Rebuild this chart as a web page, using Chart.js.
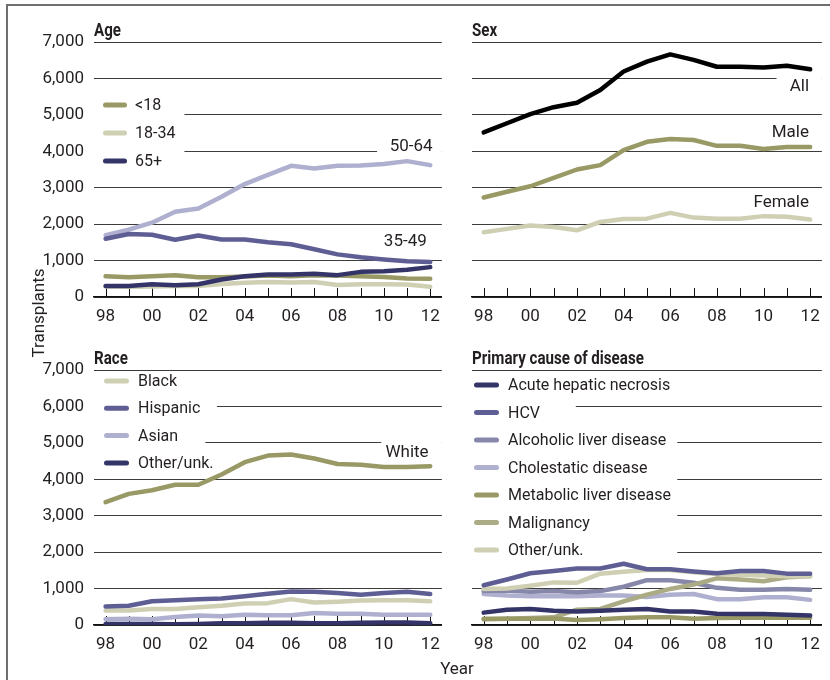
<!DOCTYPE html>
<html>
<head>
<meta charset="utf-8">
<title>Liver transplants by recipient characteristics</title>
<script src="https://cdn.jsdelivr.net/npm/chart.js@4/dist/chart.umd.min.js"></script>
<style>
  html, body { margin: 0; padding: 0; background: #fff; }
  #wrap { position: relative; width: 830px; height: 680px; overflow: hidden; background: #fff; }
  #frame { position: absolute; left: 6px; top: 4px; width: 840px; height: 700px;
           border-left: 2px solid #6f6f6f; border-top: 2px solid #6f6f6f; }
  canvas { position: absolute; }
  .axis-title { position: absolute; font: 17px Roboto, "Liberation Sans", Arial, sans-serif;
                color: #231f20; white-space: nowrap; text-align: center; }
  #yTitle { width: 120px; height: 22px; line-height: 22px; left: -22px; top: 302px; transform: rotate(-90deg); }
  #xTitle { width: 60px; height: 22px; line-height: 22px; left: 427px; top: 657px; }
</style>
</head>
<body>
<div id="wrap">
  <div id="frame"></div>
  <canvas id="cAge" width="450" height="330" style="left:0;top:0"></canvas>
  <canvas id="cSex" width="380" height="330" style="left:450px;top:0"></canvas>
  <canvas id="cRace" width="450" height="350" style="left:0;top:330px"></canvas>
  <canvas id="cCause" width="380" height="350" style="left:450px;top:330px"></canvas>
  <div class="axis-title" id="yTitle">Transplants</div>
  <div class="axis-title" id="xTitle">Year</div>
</div>
<script>
// ---- data: liver transplants per year, 1998-2012 ----
const years = ['98','99','00','01','02','03','04','05','06','07','08','09','10','11','12'];
const yTicks = [0, 1000, 2000, 3000, 4000, 5000, 6000, 7000];

// Age groups
const ageUnder18 = [570, 540, 570, 600, 540, 540, 560, 590, 570, 600, 590, 570, 550, 510, 500];
const age18to34  = [290, 280, 290, 300, 300, 360, 390, 410, 400, 410, 330, 350, 350, 340, 280];
const age35to49  = [1600, 1730, 1710, 1570, 1690, 1580, 1580, 1500, 1450, 1310, 1170, 1090, 1030, 980, 960];
const age50to64  = [1700, 1850, 2040, 2340, 2430, 2750, 3100, 3350, 3600, 3530, 3600, 3610, 3650, 3730, 3620];
const age65plus  = [300, 300, 350, 320, 350, 480, 570, 620, 620, 640, 600, 690, 710, 750, 820];

// Sex
const sexAll    = [4520, 4770, 5020, 5210, 5330, 5680, 6190, 6460, 6660, 6510, 6320, 6320, 6300, 6350, 6250];
const sexMale   = [2730, 2890, 3040, 3270, 3500, 3620, 4030, 4260, 4340, 4310, 4150, 4150, 4060, 4120, 4120];
const sexFemale = [1780, 1870, 1960, 1920, 1830, 2060, 2140, 2150, 2310, 2180, 2150, 2150, 2220, 2200, 2130];

// Race
const raceWhite    = [3370, 3600, 3700, 3850, 3850, 4130, 4470, 4650, 4680, 4570, 4420, 4400, 4340, 4340, 4360];
const raceBlack    = [400, 400, 440, 440, 490, 530, 590, 600, 710, 620, 640, 670, 680, 680, 650];
const raceHispanic = [510, 530, 650, 680, 710, 730, 790, 860, 920, 910, 880, 830, 880, 910, 850];
const raceAsian    = [160, 170, 160, 220, 260, 240, 280, 270, 270, 330, 310, 310, 280, 280, 280];
const raceOther    = [30, 30, 30, 20, 30, 50, 50, 60, 60, 50, 50, 60, 70, 70, 50];

// Primary cause of disease
const causeAcute       = [340, 420, 440, 390, 370, 390, 420, 440, 370, 370, 310, 300, 300, 280, 260];
const causeHCV         = [1090, 1250, 1420, 1480, 1550, 1550, 1680, 1530, 1530, 1470, 1420, 1480, 1480, 1410, 1410];
const causeAlcoholic   = [930, 950, 910, 930, 900, 930, 1050, 1230, 1230, 1160, 1020, 970, 970, 990, 970];
const causeCholestatic = [850, 810, 790, 790, 790, 810, 810, 770, 830, 850, 710, 710, 760, 760, 690];
const causeMetabolic   = [160, 170, 170, 180, 140, 160, 190, 210, 210, 170, 190, 200, 200, 200, 200];
const causeMalignancy  = [170, 170, 190, 210, 420, 440, 650, 830, 990, 1110, 1280, 1250, 1200, 1310, 1340];
const causeOther       = [990, 1000, 1080, 1170, 1160, 1410, 1460, 1510, 1510, 1450, 1400, 1380, 1360, 1340, 1330];

// ---- styling ----
const FONT = 'Roboto, "Liberation Sans", Arial, sans-serif';
const INK = '#231f20';
const C = {
  olive: '#999966', oliveLight: '#abab85', beige: '#cfcfb3',
  navy: '#343468', purple: '#5e5e94', slate: '#8787aa', lavender: '#afafd0', black: '#000000'
};

Chart.defaults.font.family = FONT;
Chart.defaults.font.size = 17;
Chart.defaults.color = INK;

function line(label, data, color, inLegend) {
  return {
    label, data, borderColor: color, backgroundColor: color,
    borderWidth: 4.5, pointRadius: 0, tension: 0,
    borderCapStyle: 'round', borderJoinStyle: 'round',
    inLegend: !!inLegend
  };
}

// Titles, legends, direct labels, upward tick marks and white label backings
const panelPlugin = {
  id: 'panel',
  beforeDatasetsDraw(chart, args, opts) {
    const { ctx, chartArea: a, scales: { x, y } } = chart;
    ctx.save();
    ctx.fillStyle = '#fff';
    (opts.gaps || []).forEach(g => {
      const x0 = x.getPixelForValue(g.x0), x1 = x.getPixelForValue(g.x1);
      const yTop = y.getPixelForValue(g.y1), yBot = y.getPixelForValue(g.y0);
      ctx.fillRect(x0 - 1, yTop, x1 - x0 + 1, yBot - yTop);
    });
    ctx.strokeStyle = '#111';
    ctx.lineWidth = 1;
    years.forEach((_, i) => {
      const px = Math.round(x.getPixelForValue(i)) + 0.5;
      ctx.beginPath();
      ctx.moveTo(px, a.bottom - 9);
      ctx.lineTo(px, a.bottom);
      ctx.stroke();
    });
    ctx.restore();
  },
  afterDatasetsDraw(chart, args, opts) {
    const { ctx, chartArea: a, scales: { x, y } } = chart;
    ctx.save();
    // panel title, set in a condensed bold face
    ctx.fillStyle = INK;
    ctx.font = 'bold 18px ' + FONT;
    ctx.textAlign = 'left';
    ctx.textBaseline = 'alphabetic';
    ctx.save();
    ctx.translate(a.left, a.top - 6);
    ctx.scale(0.84, 1);
    ctx.fillText(opts.title, 0, 0);
    ctx.restore();

    // legend
    const lg = opts.legend;
    if (lg) {
      const items = chart.data.datasets.filter(d => d.inLegend)
        .sort((p, q) => lg.order.indexOf(p.label) - lg.order.indexOf(q.label));
      ctx.font = '16px ' + FONT;
      ctx.textBaseline = 'middle';
      items.forEach((d, i) => {
        const cy = a.top + lg.y + i * lg.step;
        ctx.strokeStyle = d.borderColor;
        ctx.lineWidth = 5;
        ctx.lineCap = 'round';
        ctx.beginPath();
        ctx.moveTo(a.left + lg.x + 2.5, cy);
        ctx.lineTo(a.left + lg.x + lg.len - 2.5, cy);
        ctx.stroke();
        ctx.fillStyle = INK;
        ctx.fillText(d.label, a.left + lg.textX, cy + 1);
      });
    }

    // direct labels at the line ends
    ctx.font = '17px ' + FONT;
    ctx.textAlign = 'right';
    ctx.textBaseline = 'middle';
    ctx.fillStyle = INK;
    (opts.endLabels || []).forEach(l => {
      ctx.fillText(l.text, x.getPixelForValue(l.x), y.getPixelForValue(l.y));
    });
    ctx.restore();
  }
};

function makeChart(id, datasets, o) {
  return new Chart(document.getElementById(id), {
    type: 'line',
    data: { labels: years, datasets },
    plugins: [panelPlugin],
    options: {
      responsive: false, animation: false, devicePixelRatio: 1,
      layout: { padding: { top: o.padTop, right: o.padRight, left: 0, bottom: 0 } },
      plugins: {
        legend: { display: false }, tooltip: { enabled: false },
        panel: o.panel
      },
      scales: {
        x: {
          type: 'category', offset: true,
          grid: { display: false, drawTicks: false },
          border: { display: true, color: '#111', width: 1.5 },
          ticks: {
            autoSkip: false, maxRotation: 0, padding: 10, color: INK,
            font: { size: 17 },
            callback: (v, i) => (i % 2 === 0 ? years[i] : '')
          },
          afterFit: s => { s.height = o.xHeight; }
        },
        y: {
          min: 0, max: 7000,
          afterBuildTicks: s => { s.ticks = yTicks.map(v => ({ value: v })); },
          grid: { color: '#3c3c3c', lineWidth: 1, drawTicks: false },
          border: { display: false },
          ticks: {
            display: o.showY, padding: 10, color: INK, font: { size: 17 },
            callback: v => v.toLocaleString('en-US')
          },
          afterFit: s => { s.width = o.yWidth; }
        }
      }
    }
  });
}

// Age
makeChart('cAge', [
  line('65+', age65plus, C.navy, true),
  line('35-49', age35to49, C.purple),
  line('<18', ageUnder18, C.olive, true),
  line('18-34', age18to34, C.beige, true),
  line('50-64', age50to64, C.lavender)
], {
  padTop: 42, padRight: 6, xHeight: 33, yWidth: 94, showY: true,
  panel: {
    title: 'Age',
    legend: { order: ['<18', '18-34', '65+'], x: 9, y: 63, step: 28, len: 24, textX: 41 },
    endLabels: [{ text: '50-64', x: 14.1, y: 4120 }, { text: '35-49', x: 13.85, y: 1510 }],
    gaps: [{ x0: -0.5, x1: 3.4, y0: 3700, y1: 5500 }, { x0: 11.75, x1: 14.5, y0: 3800, y1: 4300 }]
  }
});

// Sex
makeChart('cSex', [
  line('All', sexAll, C.black),
  line('Male', sexMale, C.olive),
  line('Female', sexFemale, C.beige)
], {
  padTop: 42, padRight: 8, xHeight: 33, yWidth: 22, showY: false,
  panel: {
    title: 'Sex',
    endLabels: [{ text: 'All', x: 13.95, y: 5770 }, { text: 'Male', x: 13.95, y: 4500 },
                { text: 'Female', x: 13.95, y: 2580 }],
    gaps: [{ x0: 12.6, x1: 14.5, y0: 5700, y1: 6200 }]
  }
});

// Race
makeChart('cRace', [
  line('Other/unk.', raceOther, C.navy, true),
  line('Hispanic', raceHispanic, C.purple, true),
  line('Black', raceBlack, C.beige, true),
  line('Asian', raceAsian, C.lavender, true),
  line('White', raceWhite, C.olive)
], {
  padTop: 40, padRight: 6, xHeight: 55, yWidth: 94, showY: true,
  panel: {
    title: 'Race',
    legend: { order: ['Black', 'Hispanic', 'Asian', 'Other/unk.'], x: 10, y: 11, step: 27.3, len: 25, textX: 44 },
    endLabels: [{ text: 'White', x: 13.93, y: 4720 }],
    gaps: [{ x0: -0.5, x1: 4.8, y0: 5800, y1: 6200 }, { x0: -0.5, x1: 4.3, y0: 4800, y1: 5200 },
           { x0: 11.93, x1: 14.5, y0: 4800, y1: 5200 }]
  }
});

// Primary cause of disease
makeChart('cCause', [
  line('Acute hepatic necrosis', causeAcute, C.navy, true),
  line('Metabolic liver disease', causeMetabolic, C.olive, true),
  line('HCV', causeHCV, C.purple, true),
  line('Other/unk.', causeOther, C.beige, true),
  line('Malignancy', causeMalignancy, C.oliveLight, true),
  line('Alcoholic liver disease', causeAlcoholic, C.slate, true),
  line('Cholestatic disease', causeCholestatic, C.lavender, true)
], {
  padTop: 40, padRight: 8, xHeight: 55, yWidth: 22, showY: false,
  panel: {
    title: 'Primary cause of disease',
    legend: { order: ['Acute hepatic necrosis', 'HCV', 'Alcoholic liver disease', 'Cholestatic disease',
                      'Metabolic liver disease', 'Malignancy', 'Other/unk.'],
              x: 2, y: 15, step: 27.5, len: 25, textX: 36 },
    gaps: [{ x0: -0.5, x1: 3.95, y0: 5800, y1: 6200 }, { x0: -0.5, x1: 8.3, y0: 1800, y1: 5200 }]
  }
});
</script>
</body>
</html>
